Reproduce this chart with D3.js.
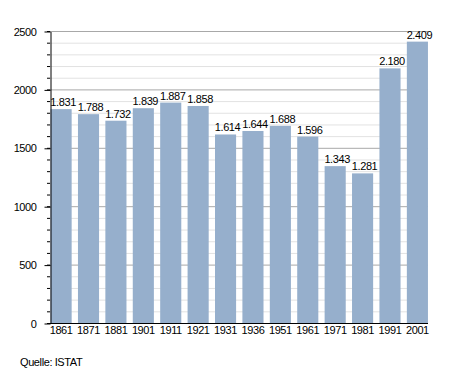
<!DOCTYPE html>
<html><head><meta charset="utf-8">
<script src="https://cdn.jsdelivr.net/npm/d3@7"></script>
<style>body{margin:0;background:#fff}svg{display:block}text{font-family:"Liberation Sans",Arial,sans-serif}</style>
</head><body>
<script>
const years = ["1861","1871","1881","1901","1911","1921","1931","1936","1951","1961","1971","1981","1991","2001"];
const population = [1831,1788,1732,1839,1887,1858,1614,1644,1688,1596,1343,1281,2180,2409];
const majorTicks = [0,500,1000,1500,2000,2500];
const sourceLabel = "Quelle: ISTAT";

const W = 455, H = 373;
const FS = 11, LS = "-0.4px";
const svg = d3.select("body").append("svg").attr("width", W).attr("height", H);
const x = d3.scaleBand().domain(years).range([50, 428.5]).paddingInner(0.23).paddingOuter(0.02);
const y = d3.scaleLinear().domain([0, 2500]).range([323, 31]);
const minorTicks = d3.range(0, 2501, 100);

// minor grid
svg.append("g").selectAll("line").data(minorTicks.filter(d => d % 500 !== 0)).join("line")
  .attr("x1", 50).attr("x2", 428).attr("y1", d => y(d) + 0.5).attr("y2", d => y(d) + 0.5)
  .attr("stroke", "#e2e2e2").attr("stroke-width", 1);
// major grid
svg.append("g").selectAll("line").data(majorTicks.filter(d => d > 0)).join("line")
  .attr("x1", 50).attr("x2", 428).attr("y1", d => y(d) + 0.5).attr("y2", d => y(d) + 0.5)
  .attr("stroke", "#a8a8a8").attr("stroke-width", 1);

// bars
svg.append("g").selectAll("rect").data(population).join("rect")
  .attr("x", (d, i) => x(years[i])).attr("width", x.bandwidth())
  .attr("y", d => y(d)).attr("height", d => y(0) - y(d))
  .attr("fill", "#96afcc");

// value labels
const fmt = d => d3.format(",")(d).replace(/,/g, ".");
svg.append("g").selectAll("text").data(population).join("text")
  .attr("x", (d, i) => x(years[i]) + x.bandwidth() / 2 + 2)
  .attr("y", d => y(d) - 3)
  .attr("text-anchor", "middle").attr("font-size", FS).attr("letter-spacing", LS).attr("fill", "#000")
  .text(fmt);

// y axis minor ticks
svg.append("g").selectAll("line").data(minorTicks).join("line")
  .attr("x1", 47).attr("x2", 50).attr("y1", d => y(d) + 0.5).attr("y2", d => y(d) + 0.5)
  .attr("stroke", "#000");
// y axis
const yAxis = d3.axisLeft(y).tickValues(majorTicks).tickFormat(d3.format("d")).tickSize(6).tickPadding(8).tickSizeOuter(0);
const gy = svg.append("g").attr("transform", "translate(50.5,0.5)").call(yAxis);
gy.select(".domain").attr("stroke", "#000");
gy.selectAll(".tick line").attr("stroke", "#000");
gy.selectAll("text").attr("font-size", FS).attr("letter-spacing", LS).attr("fill", "#000").attr("font-family", "Liberation Sans, Arial, sans-serif");

// x axis
const xAxis = d3.axisBottom(x).tickSize(0).tickPadding(3).tickSizeOuter(0);
const gx = svg.append("g").attr("transform", "translate(0,323.5)").call(xAxis);
gx.select(".domain").attr("stroke", "#000").attr("d", "M50,0H428");
gx.selectAll("text").attr("font-size", FS).attr("letter-spacing", LS).attr("fill", "#000").attr("font-family", "Liberation Sans, Arial, sans-serif");

svg.append("text").attr("x", 20).attr("y", 366).attr("font-size", FS).attr("letter-spacing", LS).attr("fill", "#000").text(sourceLabel);
</script>
</body></html>
